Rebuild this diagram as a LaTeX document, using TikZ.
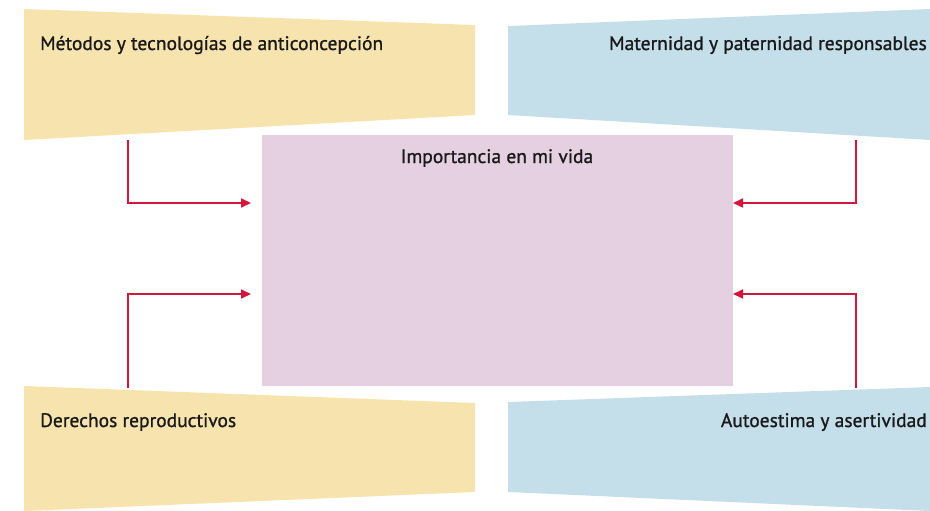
\documentclass[tikz,border=0pt]{standalone}
\usepackage{fontspec}
\setmainfont{PT Sans}
\newfontfamily\rotulo[FakeBold=1]{PT Sans}
\usetikzlibrary{arrows.meta}
\definecolor{crema}{RGB}{246,227,173}
\definecolor{celeste}{RGB}{197,223,234}
\definecolor{rosa}{RGB}{228,208,224}
\definecolor{rojo}{RGB}{210,22,60}
\tikzstyle{flecha}=[draw=rojo, line width=1.7pt, -{Triangle[length=10pt,width=9pt]}]

\begin{document}
\begin{tikzpicture}[x=1pt, y=-1pt,
                    etiqueta/.style={font=\rotulo\fontsize{19.5}{22}\selectfont, text=black!90, inner sep=0pt}]
    \useasboundingbox (0,0) rectangle (930,511);
    % cajas de los temas
    \fill[crema] (24,9) -- (475,25) -- (475,115) -- (24,140) -- cycle;
    \fill[celeste] (508,26) -- (930,9) -- (930,140) -- (508,115) -- cycle;
    \fill[crema] (24,386) -- (475,403) -- (475,492) -- (24,511) -- cycle;
    \fill[celeste] (508,402) -- (930,387) -- (930,511) -- (508,492) -- cycle;
    \node[fill=rosa, minimum width=471pt, minimum height=251pt, inner sep=0pt, anchor=north west] (vida) at (262,135) {};
    \node[etiqueta, anchor=base] at (497,163) {Importancia en mi vida};
    \node[etiqueta, anchor=base west] (metodos) at (40,50) {Métodos y tecnologías de anticoncepción};
    \node[etiqueta, anchor=base east] (maternidad) at (927,50) {Maternidad y paternidad responsables};
    \node[etiqueta, anchor=base west] (derechos) at (40,427) {Derechos reproductivos};
    \node[etiqueta, anchor=base east] (autoestima) at (927,427) {Autoestima y asertividad};
    % flechas
    \coordinate (m) at (128,140);
    \coordinate (p) at (856,140);
    \coordinate (d) at (128,388);
    \coordinate (a) at (856,388);
    \coordinate (e1) at (251,203);
    \coordinate (e2) at (733,203);
    \coordinate (e3) at (251,294);
    \coordinate (e4) at (733,294);
    \draw[flecha] (m) |- (e1);
    \draw[flecha] (p) |- (e2);
    \draw[flecha] (d) |- (e3);
    \draw[flecha] (a) |- (e4);
\end{tikzpicture}
\end{document}
